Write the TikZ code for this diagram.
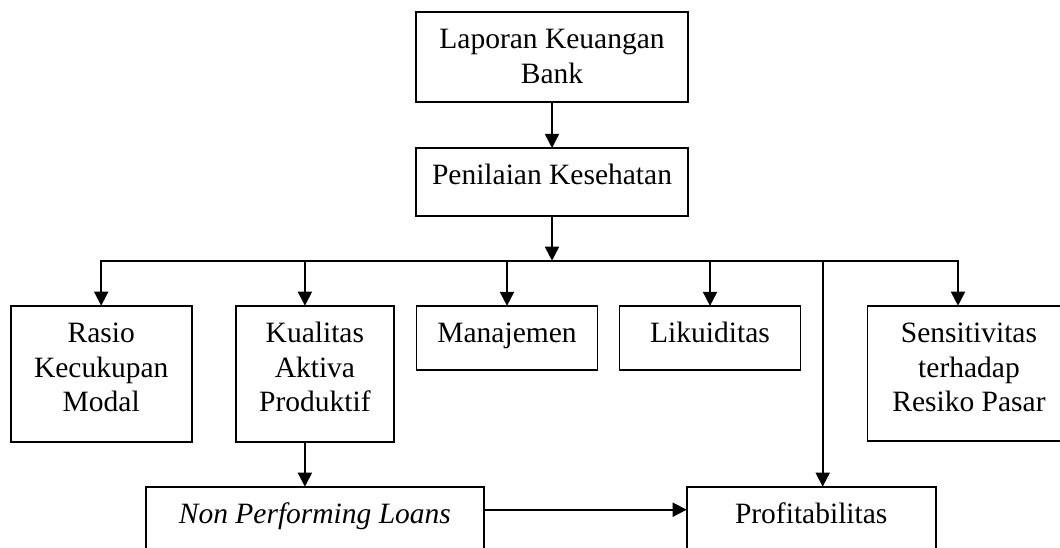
\documentclass[tikz,border=0pt]{standalone}
\usepackage{fontspec}
\setmainfont{Liberation Serif}
\usetikzlibrary{positioning,arrows.meta}

\newcommand{\boxtxt}[3]{\parbox[c][#2][t]{#1}{\centering\rule{0pt}{37pt}#3}}

\begin{document}
\begin{tikzpicture}[
		x=1pt, y=-1pt,
		font=\fontsize{29.5}{34.5}\selectfont,
		box/.style = {draw, line width=1.8pt, inner sep=0pt, outer sep=0pt},
		link/.style = {line width=1.8pt, -{Triangle[length=14pt,width=14pt]}}
	]
	\useasboundingbox (0,0) rectangle (1060,548);
	% Level 0.
	\node[box] (lap) at (552,57) {\boxtxt{272pt}{90pt}{Laporan Keuangan\\Bank}};
	\node[box, below=46pt of lap] (pen) {\boxtxt{272pt}{68pt}{Penilaian Kesehatan}};
	\coordinate[below=44.7pt of pen.south] (bus);
	% Level 1.
	\node[box] (rasio) at (101.2,373.7) {\boxtxt{181pt}{136pt}{Rasio\\Kecukupan\\Modal}};
	\node[box] (kual) at (314.9,373.7) {\boxtxt{158pt}{136pt}{Kualitas\\Aktiva\\Produktif}};
	\node[box] (mana) at (507,337.9) {\boxtxt{181pt}{64pt}{Manajemen}};
	\node[box] (likui) at (710,337.9) {\boxtxt{181pt}{64pt}{Likuiditas}};
	\node[box] (sens) at (969,373.2) {\boxtxt{203pt}{135pt}{Sensitivitas\\terhadap\\Resiko Pasar}};
	% Level 2.
	\node[box] (npl) at (314.9,520.7) {\boxtxt{338pt}{68pt}{\textit{Non Performing Loans}}};
	\node[box] (prof) at (811.2,520.7) {\boxtxt{249pt}{68pt}{Profitabilitas}};

	\draw[link] (lap) -- (pen);
	\draw[link] (pen) -- (bus);
	\draw[link] (bus) -| (rasio);
	\draw[link] (bus) -| ([xshift=-10pt]kual.north);
	\draw[link] (bus) -| (mana);
	\draw[link] (bus) -| (likui);
	\draw[link] (bus) -| ([xshift=11.5pt]prof.north);
	\draw[link] (bus) -| ([xshift=-11pt]sens.north);
	\draw[link] ([xshift=-10pt]kual.south) -- ([xshift=-10pt]npl.north);
	\draw[link] ([yshift=11pt]npl.east) -- ([yshift=11pt]prof.west);
\end{tikzpicture}
\end{document}
